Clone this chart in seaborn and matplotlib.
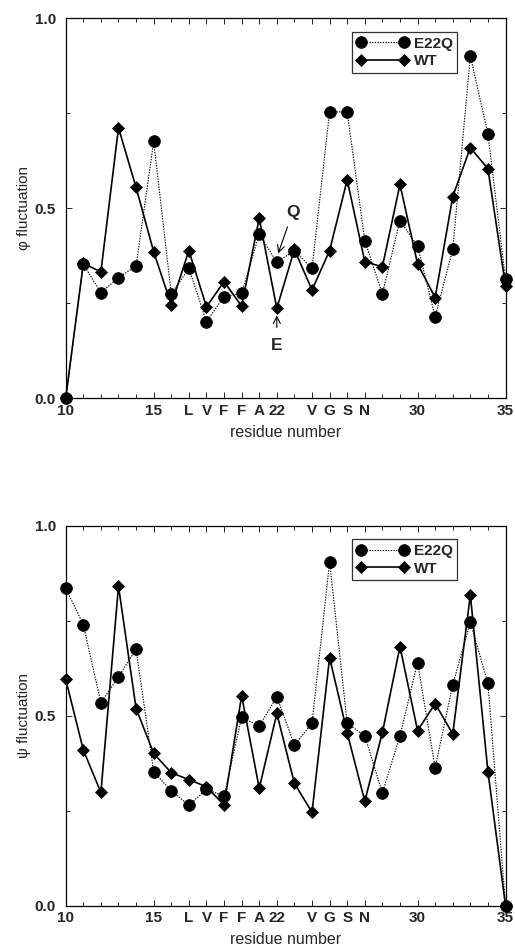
import matplotlib
matplotlib.use("Agg")
import matplotlib.pyplot as plt
import seaborn as sns
import pandas as pd

# Residues 10-35 of the peptide
residues = list(range(10, 36))

# Backbone dihedral fluctuations per residue
phi_e22q = [0.0, 0.353, 0.278, 0.318, 0.348, 0.676, 0.275, 0.342, 0.202, 0.268,
            0.276, 0.432, 0.358, 0.389, 0.342, 0.754, 0.754, 0.415, 0.275, 0.468,
            0.401, 0.215, 0.392, 0.901, 0.696, 0.313]
phi_wt = [0.0, 0.355, 0.333, 0.712, 0.555, 0.386, 0.246, 0.389, 0.241, 0.307,
          0.243, 0.474, 0.237, 0.392, 0.285, 0.389, 0.575, 0.360, 0.346, 0.563,
          0.354, 0.265, 0.531, 0.660, 0.604, 0.296]
psi_e22q = [0.835, 0.740, 0.534, 0.603, 0.675, 0.353, 0.302, 0.265, 0.306, 0.289,
            0.496, 0.473, 0.550, 0.423, 0.480, 0.905, 0.480, 0.447, 0.297, 0.447,
            0.640, 0.363, 0.582, 0.746, 0.585, 0.0]
psi_wt = [0.596, 0.410, 0.298, 0.841, 0.519, 0.401, 0.350, 0.332, 0.313, 0.265,
          0.553, 0.309, 0.506, 0.322, 0.246, 0.653, 0.455, 0.275, 0.456, 0.682,
          0.461, 0.532, 0.452, 0.818, 0.353, 0.0]

tick_pos = [10, 15, 17, 18, 19, 20, 21, 22, 24, 25, 26, 27, 30, 35]
tick_labels = ["10", "15", "L", "V", "F", "F", "A", "22", "V", "G", "S", "N", "30", "35"]
ytick_pos = [0.0, 0.5, 1.0]
ytick_labels = ["0.0", "0.5", "1.0"]

sns.set_style("ticks")
plt.rcParams["font.family"] = ["Liberation Sans", "DejaVu Sans"]

fig = plt.figure(figsize=(5.15, 9.48), dpi=100)
ax_phi = fig.add_axes([0.1276, 0.5798, 0.854, 0.4008])
ax_psi = fig.add_axes([0.1276, 0.0446, 0.854, 0.4008])


def draw_panel(ax, e22q, wt, ylabel):
    df = pd.DataFrame({"residue": residues, "E22Q": e22q, "WT": wt})
    sns.lineplot(data=df, x="residue", y="E22Q", ax=ax, color="black",
                 linestyle=(0, (1.2, 1.2)), linewidth=0.8, marker="o",
                 markersize=8.5, markeredgecolor="black", markeredgewidth=0.5,
                 label="E22Q", clip_on=False, zorder=3)
    sns.lineplot(data=df, x="residue", y="WT", ax=ax, color="black",
                 linestyle="-", linewidth=1.2, marker="D", markersize=6.5,
                 markeredgecolor="black", markeredgewidth=0.5,
                 label="WT", clip_on=False, zorder=4)
    ax.set_xlim(10, 35)
    ax.set_ylim(0, 1)
    ax.set_xticks(tick_pos)
    ax.set_xticklabels(tick_labels, fontsize=11, fontweight="bold")
    ax.set_xticks(residues, minor=True)
    ax.set_yticks(ytick_pos)
    ax.set_yticklabels(ytick_labels, fontsize=11, fontweight="bold")
    ax.set_yticks([0.25, 0.75], minor=True)
    ax.tick_params(which="both", direction="in", top=True, right=True,
                   width=0.6, color="black")
    ax.tick_params(which="major", length=4)
    ax.tick_params(which="minor", length=3)
    ax.tick_params(axis="x", which="major", pad=4)
    ax.tick_params(axis="y", which="major", pad=7)
    for s in ax.spines.values():
        s.set_linewidth(0.9)
        s.set_color("black")
    ax.set_xlabel("residue number", fontsize=11.5, labelpad=5)
    ax.set_ylabel(ylabel, fontsize=11, labelpad=3)
    leg = ax.legend(loc="upper left", bbox_to_anchor=(0.651, 0.964),
                    borderaxespad=0, numpoints=2, handlelength=3.4,
                    handletextpad=0.35, fontsize=11, frameon=True,
                    fancybox=False, borderpad=0.3, labelspacing=0.25)
    leg.get_frame().set_edgecolor("black")
    leg.get_frame().set_linewidth(0.9)
    for t in leg.get_texts():
        t.set_fontweight("bold")


draw_panel(ax_phi, phi_e22q, phi_wt, "φ fluctuation")
draw_panel(ax_psi, psi_e22q, psi_wt, "ψ fluctuation")

# Mark residue 22: mutant Q versus wild-type E
ax_phi.annotate("Q", xy=(22.05, phi_e22q[12] + 0.02), xytext=(22.9, 0.49),
                fontsize=12.5, fontweight="bold", ha="center", va="center",
                arrowprops=dict(arrowstyle="->", color="black", lw=0.8,
                                shrinkA=3, shrinkB=1))
ax_phi.annotate("E", xy=(22.0, phi_wt[12] - 0.015), xytext=(22.0, 0.14),
                fontsize=12.5, fontweight="bold", ha="center", va="center",
                arrowprops=dict(arrowstyle="->", color="black", lw=0.8,
                                shrinkA=5, shrinkB=1))

fig.savefig("out.png", dpi=100)
